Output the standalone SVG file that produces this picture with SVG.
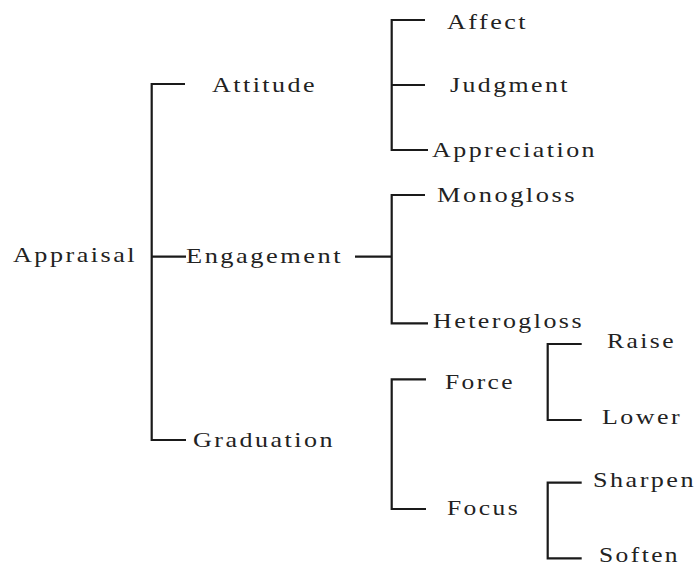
<svg xmlns="http://www.w3.org/2000/svg" width="698" height="566" viewBox="0 0 698 566">
<style>
.t{font-family:"Liberation Serif","Times New Roman",serif;font-size:21px;fill:#222;letter-spacing:2px}
.c{fill:none;stroke:#1a1a1a;stroke-width:2.2}
</style>
<rect width="698" height="566" fill="#fff"/>
<g id="connectors" class="c">
<path d="M185,84 H151.7 V440 H186"/>
<path d="M151.7,256.7 H186"/>
<path d="M425,20 H391.7 V150 H428"/>
<path d="M391.7,85 H425"/>
<path d="M355,256.7 H391.7"/>
<path d="M425,195 H391.7 V323.3 H428"/>
<path d="M426,379.3 H391.7 V509 H426"/>
<path d="M581.7,344 H547.7 V420 H581.7"/>
<path d="M581.7,482.7 H547.7 V558.3 H581.7"/>
</g>
<g id="appraisal"><text class="t" x="13" y="262" textLength="124" lengthAdjust="spacingAndGlyphs">Appraisal</text></g>
<g id="attitude"><text class="t" x="212" y="92" textLength="105" lengthAdjust="spacingAndGlyphs">Attitude</text></g>
<g id="engagement"><text class="t" x="186" y="263" textLength="157" lengthAdjust="spacingAndGlyphs">Engagement</text></g>
<g id="graduation"><text class="t" x="193" y="447" textLength="142" lengthAdjust="spacingAndGlyphs">Graduation</text></g>
<g id="affect"><text class="t" x="447" y="29" textLength="81" lengthAdjust="spacingAndGlyphs">Affect</text></g>
<g id="judgment"><text class="t" x="450" y="92" textLength="120" lengthAdjust="spacingAndGlyphs">Judgment</text></g>
<g id="appreciation"><text class="t" x="432" y="157" textLength="165" lengthAdjust="spacingAndGlyphs">Appreciation</text></g>
<g id="monogloss"><text class="t" x="437" y="202" textLength="140" lengthAdjust="spacingAndGlyphs">Monogloss</text></g>
<g id="heterogloss"><text class="t" x="433" y="328" textLength="151" lengthAdjust="spacingAndGlyphs">Heterogloss</text></g>
<g id="force"><text class="t" x="445" y="389" textLength="70" lengthAdjust="spacingAndGlyphs">Force</text></g>
<g id="focus"><text class="t" x="447" y="515" textLength="73" lengthAdjust="spacingAndGlyphs">Focus</text></g>
<g id="raise"><text class="t" x="607" y="348" textLength="69" lengthAdjust="spacingAndGlyphs">Raise</text></g>
<g id="lower"><text class="t" x="602" y="424" textLength="80" lengthAdjust="spacingAndGlyphs">Lower</text></g>
<g id="sharpen"><text class="t" x="593" y="487" textLength="103" lengthAdjust="spacingAndGlyphs">Sharpen</text></g>
<g id="soften"><text class="t" x="599" y="562" textLength="81" lengthAdjust="spacingAndGlyphs">Soften</text></g>
</svg>
